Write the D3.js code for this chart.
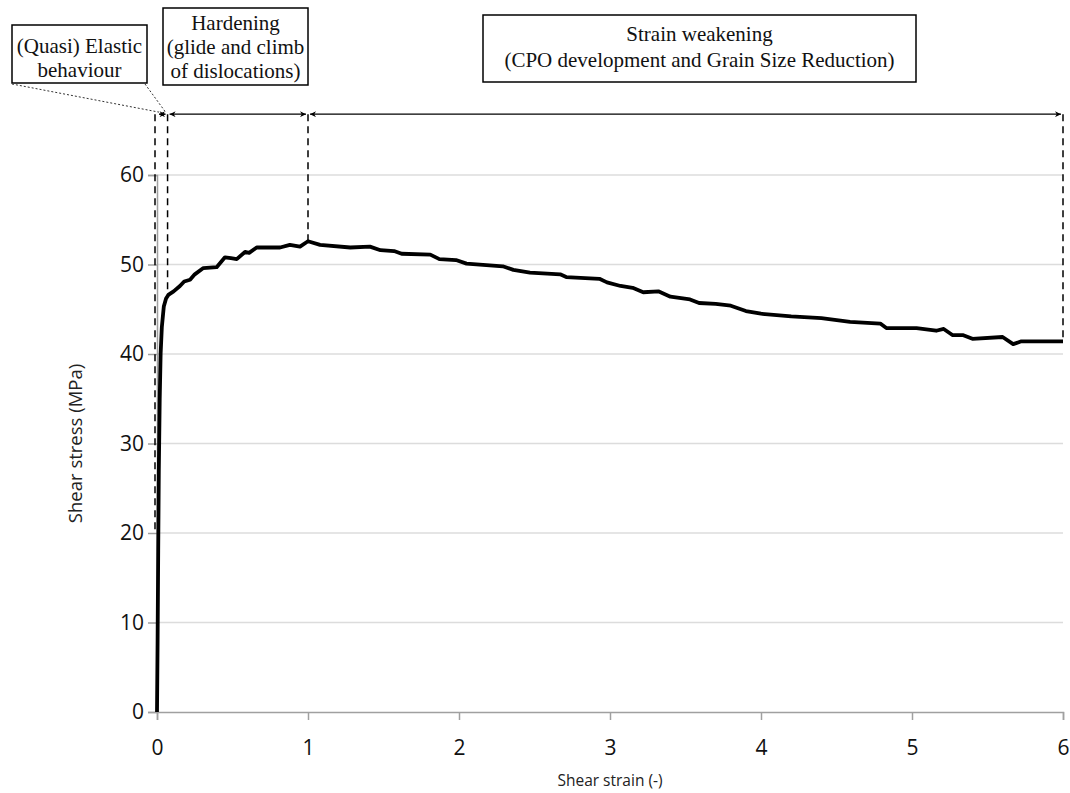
<!DOCTYPE html>
<html>
<head>
<meta charset="utf-8">
<script src="https://cdn.jsdelivr.net/npm/d3@7"></script>
<style>
  body { margin: 0; background: #fff; }
  svg { display: block; }
</style>
</head>
<body>
<div id="chart"></div>
<script>
// Data
var strain = [0, 0.004, 0.008, 0.012, 0.018, 0.024, 0.032, 0.045, 0.06, 0.075, 0.11, 0.152, 0.18, 0.219, 0.25,
  0.307, 0.395, 0.45, 0.49, 0.528, 0.583, 0.61, 0.66, 0.815, 0.88, 0.947, 1.0, 1.08, 1.28, 1.41, 1.48, 1.57,
  1.62, 1.81, 1.87, 1.98, 2.05, 2.29, 2.36, 2.47, 2.67, 2.71, 2.93, 2.98, 3.07, 3.15, 3.22, 3.32, 3.40, 3.53,
  3.59, 3.70, 3.80, 3.90, 4.0, 4.2, 4.4, 4.59, 4.79, 4.83, 5.03, 5.16, 5.21, 5.27, 5.34, 5.40, 5.60, 5.67,
  5.72, 6.0];
var stress = [0, 8, 18, 27, 35, 40, 43, 45.3, 46.2, 46.6, 47, 47.6, 48.1, 48.3, 48.9,
  49.6, 49.7, 50.8, 50.7, 50.6, 51.4, 51.3, 51.9, 51.9, 52.2, 52.0, 52.6, 52.2, 51.9, 52.0, 51.6, 51.5,
  51.2, 51.1, 50.6, 50.5, 50.1, 49.8, 49.4, 49.1, 48.9, 48.6, 48.4, 48.0, 47.6, 47.4, 46.9, 47.0, 46.4, 46.1,
  45.7, 45.6, 45.4, 44.8, 44.5, 44.2, 44.0, 43.6, 43.4, 42.9, 42.9, 42.6, 42.8, 42.1, 42.1, 41.7, 41.9, 41.1,
  41.4, 41.4];

var xTicks = [0, 1, 2, 3, 4, 5, 6];
var yTicks = [0, 10, 20, 30, 40, 50, 60];

// Stage boundaries (strain) and the stress at which each dashed marker stops
var stageBounds = [0, 0.07, 1.0, 6.0];
var boundStress = [20, 46.5, 52.6, 41.4];
var arrowStress = 66.8;

var width = 1070, height = 793;
var margin = { top: 175, right: 7, bottom: 81, left: 157 };

var svg = d3.select("#chart").append("svg")
  .attr("width", width)
  .attr("height", height);

var x = d3.scaleLinear().domain([0, 6]).range([margin.left, width - margin.right]);
var y = d3.scaleLinear().domain([0, 60]).range([height - margin.bottom, margin.top]);

// Gridlines
svg.append("g")
  .selectAll("line")
  .data(yTicks.filter(function (d) { return d > 0; }))
  .enter().append("line")
  .attr("x1", x(0)).attr("x2", x(6))
  .attr("y1", function (d) { return y(d); })
  .attr("y2", function (d) { return y(d); })
  .style("stroke", "#dcdcdc")
  .style("stroke-width", 1.5);

// Y axis
var yAxis = svg.append("g")
  .attr("transform", "translate(" + x(0) + ",0)")
  .call(d3.axisLeft(y).tickValues(yTicks).tickSize(9).tickPadding(4).tickFormat(d3.format("d")));
yAxis.select(".domain").style("stroke", "#a0a0a0").style("stroke-width", 1.5);
yAxis.selectAll(".tick line").style("stroke", "#a0a0a0").style("stroke-width", 1.5);
yAxis.selectAll("text")
  .style("font-family", "'Open Sans', sans-serif")
  .style("font-size", "21px")
  .style("fill", "#111");

// X axis
var xAxis = svg.append("g")
  .attr("transform", "translate(0," + y(0) + ")")
  .call(d3.axisBottom(x).tickValues(xTicks).tickSize(8).tickPadding(20).tickFormat(d3.format("d")));
xAxis.select(".domain").style("stroke", "#a0a0a0").style("stroke-width", 1.5);
xAxis.selectAll(".tick line").style("stroke", "#a0a0a0").style("stroke-width", 1.5);
xAxis.selectAll("text")
  .style("font-family", "'Open Sans', sans-serif")
  .style("font-size", "21px")
  .style("fill", "#111");

// Axis titles
svg.append("text")
  .attr("transform", "translate(82," + y(30) + ") rotate(-90)")
  .attr("text-anchor", "middle")
  .style("font-family", "'Open Sans', sans-serif")
  .style("font-size", "18.5px")
  .style("fill", "#222")
  .text("Shear stress (MPa)");

svg.append("text")
  .attr("x", x(3))
  .attr("y", 786)
  .attr("text-anchor", "middle")
  .style("font-family", "'Open Sans', sans-serif")
  .style("font-size", "15.5px")
  .style("fill", "#222")
  .text("Shear strain (-)");

// Stress-strain curve
var line = d3.line()
  .x(function (d, i) { return x(strain[i]); })
  .y(function (d, i) { return y(stress[i]); });

svg.append("path")
  .datum(strain)
  .attr("d", line)
  .style("fill", "none")
  .style("stroke", "#000")
  .style("stroke-width", 3.8)
  .style("stroke-linejoin", "round");

// Dashed stage boundaries
svg.append("g")
  .selectAll("line")
  .data(stageBounds)
  .enter().append("line")
  .attr("x1", function (d) { return x(d) - (d === 0 ? 2 : 0); })
  .attr("x2", function (d) { return x(d) - (d === 0 ? 2 : 0); })
  .attr("y1", y(arrowStress))
  .attr("y2", function (d, i) { return y(boundStress[i]); })
  .style("stroke", "#000")
  .style("stroke-width", 1.5)
  .style("stroke-dasharray", "7,5");

// Arrow markers
var defs = svg.append("defs");
defs.append("marker")
  .attr("id", "arrowEnd")
  .attr("viewBox", "0 0 10 10")
  .attr("refX", 10).attr("refY", 5)
  .attr("markerWidth", 8).attr("markerHeight", 6)
  .attr("markerUnits", "userSpaceOnUse")
  .attr("orient", "auto-start-reverse")
  .append("path")
  .attr("d", "M0,0 L10,5 L0,10 L3,5 z")
  .style("fill", "#000");

var ay = y(arrowStress);
var arrows = [
  [stageBounds[0], stageBounds[1]],
  [stageBounds[1], stageBounds[2]],
  [stageBounds[2], stageBounds[3]]
];
svg.append("g")
  .selectAll("line")
  .data(arrows)
  .enter().append("line")
  .attr("x1", function (d) { return x(d[0]) + 2; })
  .attr("x2", function (d) { return x(d[1]) - 2; })
  .attr("y1", ay).attr("y2", ay)
  .style("stroke", "#000")
  .style("stroke-width", 1.3)
  .attr("marker-start", "url(#arrowEnd)")
  .attr("marker-end", "url(#arrowEnd)");

// Annotation boxes
var boxes = [
  { x: 12, y: 25, w: 135, h: 58, lines: ["(Quasi) Elastic", "behaviour"], ly: [46, 70] },
  { x: 163, y: 8, w: 145, h: 77, lines: ["Hardening", "(glide and climb", "of dislocations)"], ly: [23, 47, 71] },
  { x: 483, y: 15, w: 433, h: 67, lines: ["Strain weakening", "(CPO development and Grain Size Reduction)"], ly: [34, 60] }
];

var box = svg.append("g").selectAll("g").data(boxes).enter().append("g");
box.append("rect")
  .attr("x", function (d) { return d.x; })
  .attr("y", function (d) { return d.y; })
  .attr("width", function (d) { return d.w; })
  .attr("height", function (d) { return d.h; })
  .style("fill", "#fff")
  .style("stroke", "#000")
  .style("stroke-width", 1.5);
box.each(function (d) {
  d3.select(this).selectAll("text")
    .data(d.lines)
    .enter().append("text")
    .attr("x", d.x + d.w / 2)
    .attr("y", function (t, i) { return d.ly[i]; })
    .attr("dy", "0.35em")
    .attr("text-anchor", "middle")
    .style("font-family", "'Liberation Serif', 'Times New Roman', serif")
    .style("font-size", "21px")
    .style("fill", "#111")
    .text(function (t) { return t; });
});

// Dotted leaders from the elastic box to its small arrow
var b0 = boxes[0];
svg.append("g")
  .selectAll("line")
  .data([[b0.x, x(stageBounds[0]) + 2], [b0.x + b0.w - 2, x(stageBounds[1]) - 2]])
  .enter().append("line")
  .attr("x1", function (d) { return d[0]; })
  .attr("y1", b0.y + b0.h + 1)
  .attr("x2", function (d) { return d[1]; })
  .attr("y2", ay - 2)
  .style("stroke", "#333")
  .style("stroke-width", 1)
  .style("stroke-dasharray", "2,2");
</script>
</body>
</html>
